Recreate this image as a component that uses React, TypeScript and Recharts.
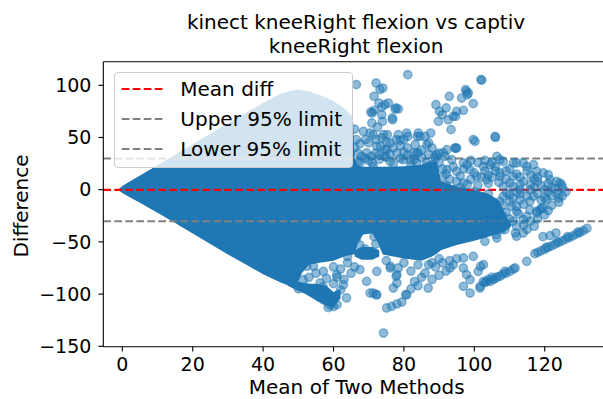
import React from 'react';
import { ComposedChart, Area, Scatter, XAxis, YAxis, ReferenceLine, Legend } from 'recharts';

// ---- Axis ticks ----
const xTicks = [0, 20, 40, 60, 80, 100, 120];
const yTicks = [-150, -100, -50, 0, 50, 100];

// ---- Limits of agreement ----
const lineNames = ['Mean diff', 'Upper 95% limit', 'Lower 95% limit'];
const lineValues = [-0.2, 29.9, -30.3];

// ---- Dense (fully overlapping) point cloud envelope ----
const blobX = [-1.0, -0.5, 0, 2, 5, 10, 15, 20, 25, 30, 35, 40, 45, 48, 50, 51, 53, 56, 60, 63, 65.5, 66, 67, 68.5, 71, 72.5, 74, 80, 85, 88, 89.5, 90.5, 95, 100, 104, 107, 109, 110.5];
const blobLow = [-0.5, -2, -3.2, -7, -12.5, -22, -32, -42, -52, -62, -71.5, -81, -89, -93, -88, -80, -72, -70, -68, -64, -62, -62, -50, -43, -42, -50, -62, -66, -68, -64, -61, -58, -53, -49, -45, -42, -39, -35];
const blobHigh = [0.5, 2, 3.5, 7.5, 13.5, 23.5, 33.5, 43.5, 53.5, 63.5, 73.5, 83, 92, 95, 96, 95.5, 94, 91, 85, 78, 70, 30, 23, 22, 22, 22, 22, 22.5, 24, 27, 26, 8, 3, 0, -4, -10, -25, -33];

// dense band below the gap near x = 66..73
const bandX = [66, 68, 71, 73];
const bandLow = [-64, -67, -67, -64];
const bandHigh = [-58, -55, -55, -58];

// dense cluster along the bottom edge of the cloud
const tipX = [47, 50, 52, 55, 58, 60, 62];
const tipLow = [-92, -97, -100, -106, -111, -113, -104];
const tipHigh = [-88, -88, -90, -90, -92, -98, -95];

// ---- Individual (sparser) points: [mean, difference] ----
const upperPoints = [
  [81.1, 110.2], [66.5, 100.6], [72.1, 102.2], [74, 97.4], [73.2, 96], [71.5, 89.4], [75.6, 83], [73.7, 79.2], [74.6, 81.4],
  [78.4, 77.3], [77.5, 77.3], [70.6, 74.4], [71.5, 76], [73.7, 71.8], [76.8, 67], [76.7, 68.7], [70.9, 63.9], [72.5, 60],
  [73.9, 65.4], [72.9, 83], [77.8, 78.3], [71, 73.5], [68.5, 55.8], [70.4, 54.3], [73.7, 49.5], [75.3, 52.7], [78.4, 52.7],
  [80.8, 54.3], [72.3, 41.5], [74.6, 38.3], [76.1, 44.7], [78.9, 47.2], [83.2, 43.1], [84.1, 54.3], [86, 51], [86.5, 43.1],
  [84.1, 35.2], [81.1, 51], [77.8, 47.9], [80, 47.9], [82.7, 35.2], [69.1, 47.9], [71.3, 52.7], [73.4, 41.5], [70.7, 31.9],
  [74.5, 31.9], [83.8, 51], [87.6, 54.3], [74.2, 52.7], [84.6, 51], [69.4, 35.2], [76.1, 27.1], [81.8, 28.7], [71.3, 22.3],
  [67.5, 25.6], [75.1, 38.3], [79.8, 28.7], [83.6, 25.6], [83.6, 35.2], [86.5, 22.3], [89.3, 33.5], [91.2, 35.2], [94.5, 39.9],
  [99.7, 47.9], [89.1, 81.4], [90.1, 75], [92, 78.3], [92.9, 89.4], [94, 70.2], [95, 75], [96.9, 76], [97.8, 94.2], [98.3, 92.6],
  [99.7, 82.4], [96.4, 87.8], [93.4, 57.5], [101.9, 105.4], [102.1, 105], [90.9, 71.8], [89.8, 65.4], [92.6, 67], [94.7, 70.2],
  [98, 91], [97.5, 95.8], [94.7, 39.9], [88.7, 31.9], [86.5, 25.6], [106, 50], [100.2, 46.3], [105.9, 51], [92.2, 38.3],
  [95, 39.9], [91.7, 31.9], [93.6, 28.7], [96.9, 25.6],
  [67, 27], [69, 30], [71, 26], [73, 29], [75, 31], [77, 25], [79, 30], [81, 33], [83, 29], [85, 31], [87, 34], [89, 30],
  [90, 35], [78, 35], [72, 35],
  [66, 40], [66.5, 48], [67, 35], [66, 58], [67.5, 44], [70, 45], [72, 48], [75, 46], [77, 40], [79, 42], [81, 40], [85, 38],
  [87, 45], [88, 40], [80, 36], [76, 34], [73, 33], [70, 28], [68, 32], [82, 24], [88, 24],
];

const rightPoints = [
  [104.5, 23.9], [106.4, 31.9], [107.3, 28.7], [108.2, 27.1], [111.1, 25.6], [112, 25.6], [113.9, 25.6], [114.9, 22.3],
  [116.8, 23.9], [117.7, 17.5], [119.6, 16], [121, 14.4], [121.5, 9.6], [123.4, 7.9], [124.3, 6.4], [124.8, 4.8],
  [107.3, 12.7], [110.1, 6.4], [113, 0], [116.8, -6.4], [120.6, -9.6], [112, -16], [115.8, -19.2], [118.7, -19.2],
  [103.5, -12.7], [115.8, -11.2], [119.1, -17.5], [117.7, -22.3], [112.5, -23], [113.9, -41.5], [112, -44.7], [108.7, -38.3],
  [106.4, -46.3], [103, -49.5], [114.9, -25.6], [110.6, -16], [107.3, -11.2], [113, -9.6], [109.2, -3.2], [115.8, 0],
  [111.1, 12.7], [107.3, 16], [108.2, -6.4], [110.1, -11.2], [112, -20.8], [113.9, -28.7], [117.7, -20.8], [119.6, -17.5],
  [92.2, 19.2], [95, 17.5], [98.8, 19.2], [102.6, 22.3], [100.7, 12.7], [96.9, 6.4], [94, 0], [103.5, 9.6], [108.2, 3.2],
  [111.7, -41.5], [106.2, -43.1], [107.8, -38.3],
  [91, 20], [92, 15], [93, 10], [94, 22], [95, 8], [96, 13], [97, 20], [98, 5], [99, 10], [100, 16], [101, 4], [102, 12],
  [103, 18], [104, 6], [105, 12], [106, 22], [107, 7], [92, 4], [96, 2], [100, -2], [104, -4], [90, 26], [91, 12],
  [118, -4], [120, -8], [121, -2], [114, 8], [116, 5], [119, 4], [122, 2], [123.5, -4], [117, 10], [112, 15], [110, 20],
  [106, 18], [104, 14], [109, 10], [111, 3], [113, -4], [110, -28], [108, -30], [109, -34], [114, -34], [116, -30],
  [101, -20], [102, -25], [103, -30], [104, -22], [105, -28], [106, -32], [107, -20], [108, -15], [109, -22], [110, -5],
  [111, -8], [112, -2], [113, 5], [114, -14], [115, -6], [116, 14], [117, 2], [118, 8], [119, -10], [120, 0], [121, 6],
  [122, -6], [123, 1], [124, -8], [125, 2], [118, 12], [115, 18], [113, 12], [109, 18], [105, 26], [103, 28], [101, 26],
  [99, 28], [98, 24], [96, -3], [93, -1], [108, -25], [111, -30], [112, -35], [115, -38], [117, -35], [118, -28],
  [120, -24], [121, -20], [122, -15], [124, -12], [126, -2], [125, -6],
];

const lowerPoints = [
  [117.2, -61.3], [118, -60], [119, -58.5], [120, -57], [121, -55.3], [122, -53.8], [123, -52.2], [124, -50.5], [125, -49],
  [126, -47.4], [127, -45.8], [128, -44.2], [129, -42.6], [130, -41], [131, -39.2], [132, -37], [120.5, -55], [123.5, -50],
  [126.5, -45], [129.5, -40.5], [114.9, -68.7], [123.2, -41.5], [119.5, -45], [121.5, -44],
  [101.7, -92.6], [102.6, -87.8], [103, -89], [104, -86], [104.5, -87.8], [105.4, -86.2], [106, -85], [107.3, -83], [108, -81],
  [108.7, -78.3], [110.1, -78.3], [111.1, -76], [111.6, -75], [103.5, -88], [105, -84], [106.5, -83.5], [109, -80],
  [74.2, -137.3], [75.1, -113.3], [76.5, -111.8], [78, -109.5], [79.4, -107.6], [80.8, -100.6], [77, -94.2], [78, -89.4],
  [72.3, -100.6], [71.3, -99], [86.9, -94.2], [93.1, -75], [96.9, -92.6], [98.8, -99], [101.6, -94.2], [101.1, -78.3],
  [102.6, -71.8], [96.9, -65.4], [99.7, -63.9], [93.6, -43.1],
  [52.4, -73.4], [54.3, -73.4], [57.1, -78.3], [56.2, -89.4], [60.9, -81.4], [62.8, -91], [63.7, -103.7], [59, -110.2],
  [57.1, -105.4], [53.3, -95.8], [51.4, -86.2], [67.5, -76.6], [69.4, -87.8], [72.3, -78.3], [70.4, -99], [72.1, -100.6],
  [78, -81.4], [78.4, -75], [76.1, -75], [96.9, -75], [97.8, -81.4], [98.8, -86.2], [76.2, -73.4], [77.8, -83], [80.5, -100.6],
  [101.8, -73.4], [80, -70], [82, -78], [84, -72], [86, -80], [88, -70], [90, -66], [83, -88],
  [55, -80], [58, -85], [60, -90], [62, -96], [58, -100], [60, -104], [56, -96], [61, -110], [59, -107], [63, -86], [65, -80],
  [66, -74], [64, -70], [62, -76], [60, -74], [57, -93], [54, -98], [55, -100], [56, -103], [58, -107], [60, -112],
  [58.5, -113], [52, -93], [50, -95],
  [87, -72], [89, -74], [91, -70], [93, -68], [95, -66], [94, -72], [92, -78], [90, -82], [88, -86], [85, -84], [84, -92],
  [82, -95], [66.5, -47], [67.5, -53], [72, -52], [71.5, -45], [69, -57], [75, -68], [64, -64], [49, -80], [53, -84], [61, -84],
];

// ---- styles ----
const BLUE = '#1f77b4';
const lineColors = ['#ff0000', '#808080', '#808080'];
const FONT = 'DejaVu Sans, sans-serif';
const DASH = '7.7 3.3';

const toRange = (xs: number[], lo: number[], hi: number[]) => xs.map((x, i) => ({ x, range: [lo[i], hi[i]] }));
const blobData = toRange(blobX, blobLow, blobHigh);
const bandData = toRange(bandX, bandLow, bandHigh);
const tipData = toRange(tipX, tipLow, tipHigh);
const scatterData = [...upperPoints, ...rightPoints, ...lowerPoints].map(([x, y]) => ({ x, y }));

const Dot = (props: any) => {
  const { cx, cy } = props;
  if (cx == null || cy == null) return null;
  return <circle cx={cx} cy={cy} r={4.17} fill={BLUE} fillOpacity={0.5} stroke={BLUE} strokeOpacity={0.5} strokeWidth={1.39} />;
};

const fmtY = (v: number) => (v < 0 ? '\u2212' + Math.abs(v) : String(v));

const LegendBox = () => (
  <div
    style={{
      width: 239,
      height: 96,
      boxSizing: 'border-box',
      background: 'rgba(255,255,255,0.8)',
      border: '1px solid #cccccc',
      borderRadius: 4,
      position: 'relative',
      fontFamily: FONT,
      fontSize: 20,
      color: '#000',
    }}
  >
    {lineNames.map((name, i) => (
      <div key={name} style={{ position: 'absolute', left: 0, top: [15.7, 46.3, 75.7][i] - 12, height: 24, width: 239 }}>
        <svg width={60} height={24} style={{ position: 'absolute', left: 0, top: 0 }}>
          <line x1={6.7} x2={47.7} y1={12} y2={12} stroke={lineColors[i]} strokeWidth={2.1} strokeDasharray={DASH} />
        </svg>
        <span style={{ position: 'absolute', left: 65.3, top: 0, lineHeight: '24px', whiteSpace: 'nowrap' }}>{name}</span>
      </div>
    ))}
  </div>
);

export default function App() {
  return (
    <div style={{ position: 'absolute', left: 0, top: 0, width: 603, height: 399, overflow: 'hidden', background: '#fff' }}>
      <ComposedChart
        width={612}
        height={399}
        margin={{ top: 61.7, right: 5.7, bottom: 0, left: 0 }}
        style={{ fontFamily: FONT }}
      >
        <XAxis
          type="number"
          dataKey="x"
          domain={[-5.4, 137.5]}
          allowDataOverflow
          ticks={xTicks}
          height={52.3}
          tickSize={4.9}
          tickMargin={6}
          axisLine={{ stroke: '#000', strokeWidth: 1.1 }}
          tickLine={{ stroke: '#000', strokeWidth: 1.1 }}
          tick={{ fill: '#000', fontSize: 19, fontFamily: FONT }}
        />
        <YAxis
          type="number"
          dataKey="y"
          domain={[-150.4, 122.6]}
          allowDataOverflow
          ticks={yTicks}
          width={103.3}
          tickSize={4.9}
          tickMargin={7}
          tickFormatter={fmtY}
          axisLine={{ stroke: '#000', strokeWidth: 1.1 }}
          tickLine={{ stroke: '#000', strokeWidth: 1.1 }}
          tick={{ fill: '#000', fontSize: 19, fontFamily: FONT }}
        />
        <Area data={blobData} dataKey="range" type="linear" fill={BLUE} fillOpacity={1} stroke="none" isAnimationActive={false} />
        <Area data={bandData} dataKey="range" type="linear" fill={BLUE} fillOpacity={1} stroke="none" isAnimationActive={false} />
        <Area data={tipData} dataKey="range" type="linear" fill={BLUE} fillOpacity={1} stroke="none" isAnimationActive={false} />
        <Scatter data={scatterData} dataKey="y" shape={Dot} isAnimationActive={false} />
        {lineValues.map((v, i) => (
          <ReferenceLine key={lineNames[i]} y={v} stroke={lineColors[i]} strokeWidth={2.1} strokeDasharray={DASH} />
        ))}
        <ReferenceLine y={122.6} stroke="#000" strokeWidth={1.1} />
        <Legend
          layout="vertical"
          align="center"
          verticalAlign="middle"
          wrapperStyle={{ position: 'absolute', left: 114, top: 72, width: 239, height: 96 }}
          content={() => <LegendBox />}
        />
      </ComposedChart>
      <svg width={603} height={399} style={{ position: 'absolute', left: 0, top: 0, pointerEvents: 'none' }} fontFamily={FONT}>
        <text x={356} y={29} textAnchor="middle" fontSize={20} fill="#000">kinect kneeRight flexion vs captiv</text>
        <text x={356} y={53} textAnchor="middle" fontSize={20} fill="#000">kneeRight flexion</text>
        <text x={356.7} y={394} textAnchor="middle" fontSize={20} fill="#000">Mean of Two Methods</text>
        <text x={28} y={206} textAnchor="middle" fontSize={20} fill="#000" transform="rotate(-90 28 206)">Difference</text>
      </svg>
    </div>
  );
}
